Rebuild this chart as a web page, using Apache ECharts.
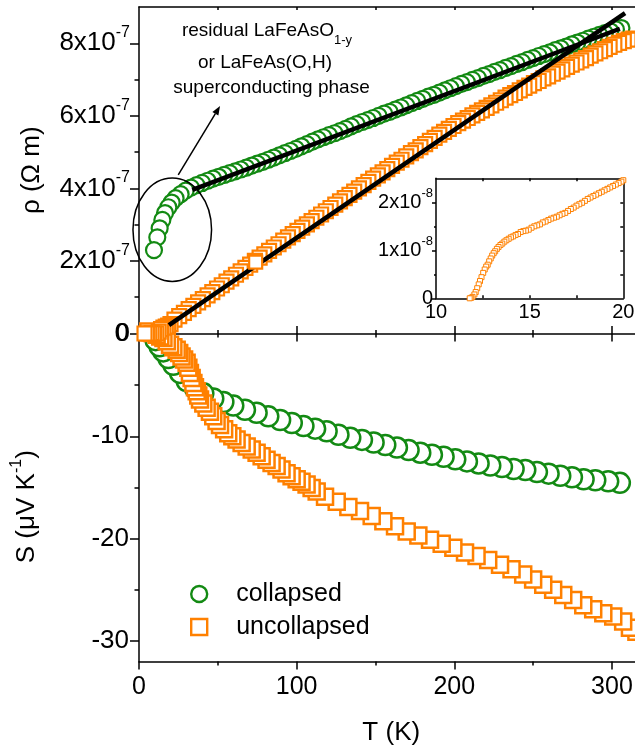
<!DOCTYPE html>
<html><head><meta charset="utf-8">
<script src="https://cdn.jsdelivr.net/npm/echarts@6/dist/echarts.min.js"></script>
<style>
html,body{margin:0;padding:0;overflow:hidden;background:#fff;width:635px;height:752px}
#c{width:650px;height:752px}
</style></head>
<body><div id="c"></div>
<script>
// ---------- data ----------
// resistivity in units of 1e-7 Ohm m, T in K
const RHO_COLLAPSED = [[9.5,2.30],[11.6,2.65],[13.1,2.90],[14.8,3.13],[16.5,3.32],[18.6,3.48],[20.7,3.61],[23.2,3.73],[26.4,3.84],[29.6,3.94],[33.0,4.02],[36.5,4.09],[40.0,4.15],[43.5,4.21],[47.0,4.27],[50.5,4.32],[54.0,4.37],[57.5,4.42],[61.0,4.47],[64.5,4.52],[68.0,4.57],[71.5,4.63],[75.0,4.68],[78.5,4.73],[82.0,4.79],[85.5,4.85],[89.0,4.91],[92.5,4.97],[96.0,5.03],[99.5,5.09],[103.0,5.16],[106.5,5.22],[110.0,5.29],[113.5,5.35],[117.0,5.41],[120.5,5.47],[124.0,5.52],[127.5,5.58],[131.0,5.64],[134.5,5.71],[138.0,5.77],[141.5,5.83],[145.0,5.88],[148.5,5.94],[152.0,6.00],[155.5,6.06],[159.0,6.11],[162.5,6.17],[166.0,6.23],[169.5,6.29],[173.0,6.35],[176.5,6.41],[180.0,6.47],[183.5,6.53],[187.0,6.58],[190.5,6.64],[194.0,6.70],[197.5,6.76],[201.0,6.82],[204.5,6.88],[208.0,6.93],[211.5,6.99],[215.0,7.04],[218.5,7.10],[222.0,7.15],[225.5,7.21],[229.0,7.26],[232.5,7.32],[236.0,7.37],[239.5,7.43],[243.0,7.48],[246.5,7.54],[250.0,7.59],[253.5,7.65],[257.0,7.70],[260.5,7.75],[264.0,7.81],[267.5,7.86],[271.0,7.91],[274.5,7.97],[278.0,8.02],[281.5,8.07],[285.0,8.13],[288.5,8.18],[292.0,8.23],[295.5,8.28],[299.0,8.33],[302.5,8.38],[306.0,8.42]];
const RHO_UNCOLLAPSED = [[3.5,0.00],[5.0,0.00],[6.5,0.00],[8.0,0.01],[9.5,0.00],[11.0,0.00],[12.5,0.05],[14.0,0.12],[15.5,0.16],[17.0,0.19],[18.5,0.22],[20.0,0.26],[22.5,0.38],[25.5,0.48],[28.5,0.57],[31.5,0.67],[34.5,0.76],[37.5,0.86],[40.5,0.95],[43.5,1.05],[46.5,1.14],[49.5,1.24],[52.5,1.33],[55.5,1.43],[58.5,1.52],[61.5,1.62],[64.5,1.71],[67.5,1.81],[70.5,1.90],[73.5,2.00],[76.5,2.09],[79.5,2.18],[82.5,2.28],[85.5,2.37],[88.5,2.46],[91.5,2.56],[94.5,2.65],[97.5,2.74],[100.5,2.83],[103.5,2.92],[106.5,3.01],[109.5,3.10],[112.5,3.19],[115.5,3.28],[118.5,3.37],[121.5,3.46],[124.5,3.55],[127.5,3.64],[130.5,3.73],[133.5,3.82],[136.5,3.91],[139.5,4.00],[142.5,4.09],[145.5,4.18],[148.5,4.27],[151.5,4.36],[154.5,4.44],[157.5,4.53],[160.5,4.62],[163.5,4.71],[166.5,4.79],[169.5,4.88],[172.5,4.97],[175.5,5.05],[178.5,5.14],[181.5,5.22],[184.5,5.31],[187.5,5.39],[190.5,5.48],[193.5,5.56],[196.5,5.64],[199.5,5.72],[202.5,5.80],[205.5,5.87],[208.5,5.94],[211.5,6.01],[214.5,6.08],[217.5,6.15],[220.5,6.22],[223.5,6.29],[226.5,6.36],[229.5,6.43],[232.5,6.50],[235.5,6.57],[238.5,6.63],[241.5,6.70],[244.5,6.77],[247.5,6.83],[250.5,6.90],[253.5,6.96],[256.5,7.03],[259.5,7.09],[262.5,7.16],[265.5,7.22],[268.5,7.28],[271.5,7.35],[274.5,7.41],[277.5,7.47],[280.5,7.53],[283.5,7.59],[286.5,7.66],[289.5,7.72],[292.5,7.78],[295.5,7.84],[298.5,7.90],[301.5,7.96],[304.5,8.01],[307.5,8.06],[310.5,8.10],[313.5,8.13]];
const FIT_COLLAPSED = [[33.8,3.96],[305.0,8.40]];
const FIT_UNCOLLAPSED = [[19.0,0.23],[308.3,8.83]];
const RHO_UNCOLLAPSED_ON_FIT = [[74.0,1.97]];
// Seebeck coefficient, uV/K
const S_COLLAPSED = [[10.5,-0.6],[13.0,-1.2],[15.4,-1.7],[18.6,-2.35],[21.8,-3.0],[26.0,-3.8],[30.2,-4.6],[35.5,-5.3],[40.8,-5.8],[47.1,-6.3],[53.5,-6.65],[59.8,-7.0],[67.2,-7.4],[74.6,-7.7],[82.0,-8.05],[89.5,-8.4],[96.9,-8.7],[104.3,-9.0],[111.7,-9.25],[119.0,-9.5],[126.5,-9.85],[134.0,-10.15],[141.4,-10.35],[148.8,-10.6],[156.2,-10.85],[163.6,-11.1],[171.0,-11.35],[178.4,-11.6],[185.8,-11.8],[193.2,-12.0],[200.6,-12.25],[208.0,-12.45],[215.4,-12.65],[222.8,-12.85],[230.2,-13.0],[237.6,-13.2],[245.0,-13.3],[252.4,-13.5],[259.8,-13.65],[267.2,-13.85],[274.6,-14.0],[282.0,-14.2],[289.4,-14.3],[297.6,-14.4],[305.0,-14.55]];
const S_UNCOLLAPSED = [[5.9,0.25],[8.5,0.1],[11.2,-0.07],[13.5,-0.25],[15.5,-0.4],[17.6,-0.7],[19.7,-1.05],[21.8,-1.3],[23.9,-1.53],[25.5,-1.85],[27.0,-2.2],[28.6,-2.5],[30.2,-2.8],[31.3,-3.3],[32.3,-3.8],[33.4,-4.3],[34.5,-4.8],[35.5,-5.2],[36.6,-5.6],[37.6,-6.0],[38.7,-6.4],[40.8,-6.8],[42.9,-7.2],[45.0,-7.6],[47.1,-8.05],[49.2,-8.5],[51.4,-8.9],[54.0,-9.3],[56.6,-9.7],[59.2,-10.0],[61.9,-10.3],[65.1,-10.65],[68.3,-11.0],[71.5,-11.3],[74.6,-11.6],[77.8,-11.95],[80.9,-12.3],[84.1,-12.6],[87.3,-12.9],[90.4,-13.25],[93.6,-13.6],[96.8,-13.9],[100.0,-14.2],[103.1,-14.45],[106.3,-14.7],[109.5,-15.05],[112.7,-15.4],[118.0,-15.9],[125.4,-16.4],[132.8,-16.9],[140.2,-17.3],[147.6,-17.8],[155.0,-18.3],[162.4,-18.8],[169.8,-19.3],[177.2,-19.7],[184.6,-20.1],[192.0,-20.5],[199.4,-20.9],[206.8,-21.35],[214.1,-21.7],[221.5,-22.1],[229.0,-22.55],[236.3,-23.0],[243.7,-23.5],[250.0,-24.0],[256.4,-24.5],[262.7,-25.0],[269.1,-25.5],[275.4,-26.0],[281.8,-26.5],[288.1,-26.9],[294.5,-27.3],[300.8,-27.6],[307.1,-28.1],[311.4,-28.7],[315.5,-29.1]];
// inset: resistivity in units of 1e-8 Ohm m
const INSET_RHO = [[11.80,0.00],[11.88,0.01],[11.95,0.03],[12.05,0.08],[12.12,0.13],[12.20,0.21],[12.28,0.29],[12.35,0.36],[12.43,0.44],[12.52,0.53],[12.60,0.60],[12.68,0.66],[12.76,0.70],[12.84,0.77],[12.92,0.83],[13.00,0.89],[13.08,0.94],[13.16,0.98],[13.25,1.03],[13.34,1.07],[13.44,1.11],[13.54,1.14],[13.65,1.18],[13.76,1.21],[13.88,1.24],[14.00,1.27],[14.12,1.29],[14.25,1.32],[14.38,1.34],[14.52,1.38],[14.66,1.40],[14.80,1.41],[14.95,1.43],[15.10,1.47],[15.25,1.50],[15.40,1.52],[15.55,1.54],[15.70,1.58],[15.85,1.60],[16.00,1.63],[16.15,1.66],[16.30,1.68],[16.45,1.70],[16.60,1.73],[16.75,1.76],[16.90,1.78],[17.05,1.82],[17.20,1.86],[17.35,1.89],[17.50,1.93],[17.65,1.96],[17.80,1.99],[17.95,2.03],[18.10,2.07],[18.25,2.10],[18.40,2.13],[18.55,2.16],[18.70,2.19],[18.85,2.22],[19.00,2.25],[19.15,2.28],[19.30,2.31],[19.45,2.34],[19.60,2.37],[19.75,2.40],[19.90,2.43],[20.00,2.46]];
// ticks
const T_TICKS = [0,100,200,300];
const T_MINOR = [50,150,250];
const T_TOP_TICKS = [50,100,150,200,250,300];
const RHO_TICKS = [0,2,4,6,8];
const RHO_MINOR = [1,3,5,7];
const S_TICKS = [-30,-20,-10,0];
const S_MINOR = [-25,-15,-5];
const INSET_T_TICKS = [10,15,20];
const INSET_T_MINOR = [12.5,15,17.5];
const INSET_RHO_TICKS = [0,1,2];
const INSET_RHO_MINOR = [0.5,1.5];
const INSET_RHO_RIGHT = [0.5,1,1.5,2];
const SERIES_NAMES = ['collapsed','uncollapsed'];

// ---------- style ----------
const FONT = '"Liberation Sans", Arial, sans-serif';
const GREEN = '#138a13';
const ORANGE = '#ff8000';
const BLACK = '#000';

function mk(o){
  return {
    type:'value', gridIndex:o.g, position:o.pos, min:o.min, max:o.max,
    axisLine:{show:!!o.line, onZero:false, lineStyle:{color:BLACK,width:1.5}},
    axisTick: o.tick ? {show:true, customValues:o.tick[0], length:o.tick[1], inside:o.tick[2], lineStyle:{color:BLACK,width:1.5}} : {show:false},
    axisLabel: o.label ? Object.assign({show:true, color:BLACK, fontFamily:FONT}, o.label) : {show:false},
    splitLine:{show:false},
    name:o.name||'', nameLocation:'middle', nameGap:o.nameGap||0,
    nameTextStyle:o.nameStyle||{}
  };
}
const supRich = (bs, ss, lh) => ({
  b:{fontSize:bs, fontFamily:FONT, color:BLACK, lineHeight:lh},
  s:{fontSize:ss, fontFamily:FONT, color:BLACK, verticalAlign:'top'}
});
const fmtExp = (e) => (v) => v === 0 ? '{b|0}' : '{b|' + v + 'x10}{s|' + e + '}';
// measurements were taken on cooling: draw from high T to low T
const cooling = (arr) => arr.slice().reverse();

const xAxis = [
  mk({g:0,pos:'bottom',min:0,max:320,line:true,tick:[T_TICKS,8,false]}),
  mk({g:0,pos:'bottom',min:0,max:320,tick:[T_MINOR,4,false]}),
  mk({g:0,pos:'top',min:0,max:320,line:true,tick:[T_TOP_TICKS,3,true]}),
  mk({g:1,pos:'bottom',min:0,max:320,line:true,tick:[T_TICKS,8,false],
      label:{customValues:T_TICKS, fontSize:25, margin:13},
      name:'T (K)', nameGap:58, nameStyle:{fontSize:26, fontFamily:FONT, color:BLACK}}),
  mk({g:1,pos:'bottom',min:0,max:320,tick:[T_MINOR,4,false]}),
  mk({g:1,pos:'top',min:0,max:320,tick:[T_TICKS,8,false]}),
  mk({g:1,pos:'top',min:0,max:320,tick:[T_MINOR,4,false]}),
  mk({g:2,pos:'bottom',min:10,max:20,line:true,tick:[INSET_T_MINOR,3,true],
      label:{customValues:INSET_T_TICKS, fontSize:20, margin:4}}),
  mk({g:2,pos:'top',min:10,max:20,line:true,tick:[INSET_T_MINOR,3,true]})
];
const yAxis = [
  mk({g:0,pos:'left',min:0,max:9,line:true,tick:[RHO_TICKS,9,false],
      label:{customValues:RHO_TICKS, margin:9, formatter:fmtExp('-7'), rich:supRich(26,16,37)},
      name:'ρ (Ω m)', nameGap:94, nameStyle:{fontSize:26, fontFamily:FONT, color:BLACK}}),
  mk({g:0,pos:'left',min:0,max:9,tick:[RHO_MINOR,4.5,false]}),
  mk({g:1,pos:'left',min:-32,max:0,line:true,tick:[S_TICKS,9,false],
      label:{customValues:S_TICKS, margin:10, fontSize:26, formatter:(v)=>String(v)},
      name:'{b|S (μV K}{s|-1}{b|)}', nameGap:94,
      nameStyle:{padding:[0,18,0,0], rich:supRich(26,16,36)}}),
  mk({g:1,pos:'left',min:-32,max:0,tick:[S_MINOR,4.5,false]}),
  mk({g:2,pos:'left',min:0,max:2.5,line:true,tick:[INSET_RHO_TICKS,4,false],
      label:{customValues:INSET_RHO_TICKS, margin:3, formatter:fmtExp('-8'), rich:supRich(20,13,30)}}),
  mk({g:2,pos:'left',min:0,max:2.5,tick:[INSET_RHO_MINOR,2,false]}),
  mk({g:2,pos:'right',min:0,max:2.5,line:true,tick:[INSET_RHO_RIGHT,3,true]})
];

const openSym = (color, bw) => ({color:'#fff', borderColor:color, borderWidth:bw, opacity:1});

const series = [
  {name:SERIES_NAMES[0], type:'scatter', xAxisIndex:3, yAxisIndex:2, data:cooling(S_COLLAPSED), symbol:'circle', symbolSize:20, itemStyle:openSym(GREEN,2.5), clip:false, z:2},
  {name:SERIES_NAMES[1], type:'scatter', xAxisIndex:3, yAxisIndex:2, data:cooling(S_UNCOLLAPSED), symbol:'rect', symbolSize:16, itemStyle:openSym(ORANGE,2.5), clip:false, z:2},
  {name:SERIES_NAMES[0], type:'scatter', xAxisIndex:0, yAxisIndex:0, data:cooling(RHO_COLLAPSED), symbol:'circle', symbolSize:16, itemStyle:openSym(GREEN,2.2), clip:false, z:3},
  {name:SERIES_NAMES[1], type:'scatter', xAxisIndex:0, yAxisIndex:0, data:cooling(RHO_UNCOLLAPSED), symbol:'rect', symbolSize:14, itemStyle:openSym(ORANGE,2.2), clip:false, z:3},
  {name:'fit collapsed', type:'line', xAxisIndex:0, yAxisIndex:0, data:FIT_COLLAPSED, showSymbol:false, symbol:'none', lineStyle:{color:BLACK,width:4.5}, z:4},
  {name:'fit uncollapsed', type:'line', xAxisIndex:0, yAxisIndex:0, data:FIT_UNCOLLAPSED, showSymbol:false, symbol:'none', lineStyle:{color:BLACK,width:4.5}, z:4},
  {name:SERIES_NAMES[1], type:'scatter', xAxisIndex:0, yAxisIndex:0, data:RHO_UNCOLLAPSED_ON_FIT, symbol:'rect', symbolSize:13, itemStyle:openSym(ORANGE,2.2), z:5},
  {name:'inset', type:'scatter', xAxisIndex:7, yAxisIndex:4, data:cooling(INSET_RHO), symbol:'rect', symbolSize:5, itemStyle:openSym(ORANGE,1), z:5}
];

const chart = echarts.init(document.getElementById('c'), null, {renderer:'canvas'});
chart.setOption({
  animation:false,
  backgroundColor:'#fff',
  grid:[
    {left:139, top:7, width:504.5, height:326.5},
    {left:139, top:334, width:504.5, height:327.4},
    {left:436, top:178.3, width:187.3, height:120}
  ],
  xAxis, yAxis, series,
  legend:{
    orient:'vertical', left:185, top:576.5, itemWidth:16, itemHeight:16, itemGap:8,
    selectedMode:false,
    textStyle:{fontSize:25, fontFamily:FONT, color:BLACK, padding:[0,0,0,24]},
    data:[
      {name:SERIES_NAMES[0], icon:'circle', itemStyle:openSym(GREEN,2.4)},
      {name:SERIES_NAMES[1], icon:'rect', itemStyle:openSym(ORANGE,2.4)}
    ]
  }
});

// annotation: ellipse around the low-T collapsed points, arrow and note
const c = chart.convertToPixel({gridIndex:0}, [21.1, 2.86]);
const a0 = chart.convertToPixel({gridIndex:0}, [24.9, 4.37]);
const a1 = chart.convertToPixel({gridIndex:0}, [51.4, 6.27]);
const dx = a1[0]-a0[0], dy = a1[1]-a0[1], L = Math.hypot(dx,dy);
const ux = dx/L, uy = dy/L, hl = 9, hw = 3.5;
const base = [a1[0]-ux*hl, a1[1]-uy*hl];
const noteRich = {
  b:{fontSize:19, fontFamily:FONT, color:BLACK, lineHeight:32},
  s:{fontSize:13, fontFamily:FONT, color:BLACK, verticalAlign:'bottom'}
};
chart.setOption({
  graphic:[
    {type:'ellipse', shape:{cx:c[0], cy:c[1], rx:39.3, ry:51.7}, style:{fill:'none', stroke:BLACK, lineWidth:1.5}, z:100},
    {type:'line', shape:{x1:a0[0], y1:a0[1], x2:base[0], y2:base[1]}, style:{stroke:BLACK, lineWidth:1.5}, z:100},
    {type:'polygon', shape:{points:[[a1[0],a1[1]],[base[0]-uy*hw, base[1]+ux*hw],[base[0]+uy*hw, base[1]-ux*hw]]}, style:{fill:BLACK}, z:100},
    {type:'text', x:267, y:31, style:{text:'{b|residual LaFeAsO}{s|1-y}', rich:noteRich, align:'center', verticalAlign:'middle'}, z:100},
    {type:'text', x:265, y:63, style:{text:'or LaFeAs(O,H)', font:'19px ' + FONT, fill:BLACK, align:'center', verticalAlign:'middle'}, z:100},
    {type:'text', x:271.5, y:88, style:{text:'superconducting phase', font:'19px ' + FONT, fill:BLACK, align:'center', verticalAlign:'middle'}, z:100}
  ]
});
</script></body></html>
